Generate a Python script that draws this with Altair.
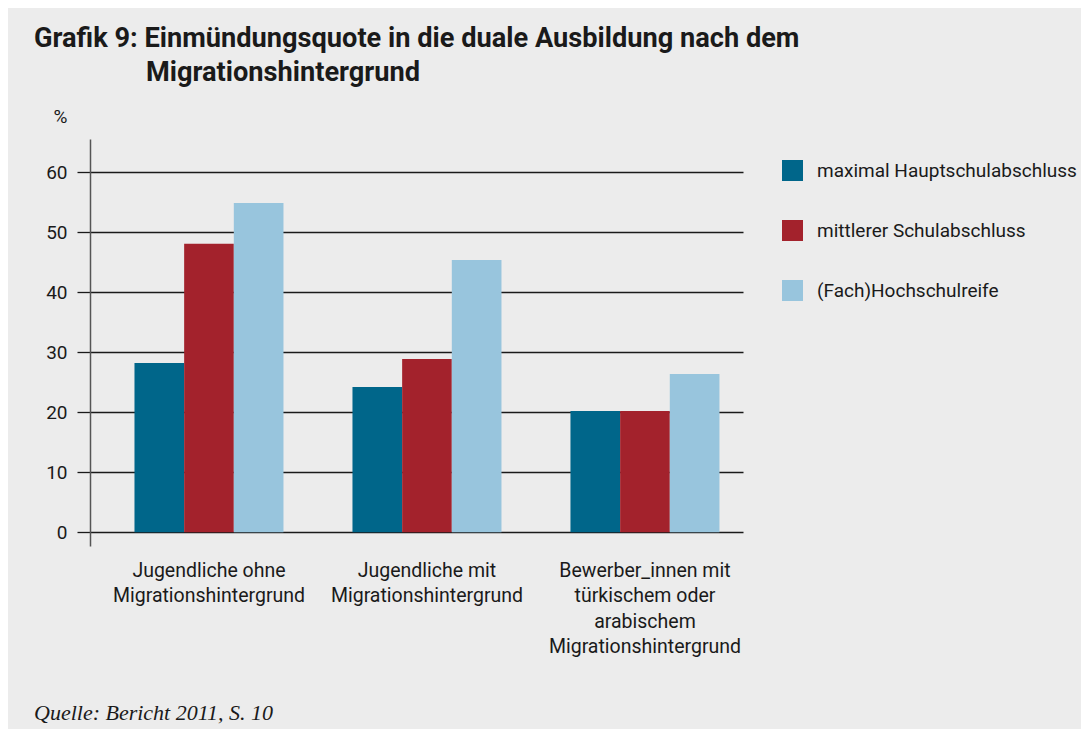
import altair as alt
import pandas as pd

# ---- data ----
groups = [
    "Jugendliche ohne\nMigrationshintergrund",
    "Jugendliche mit\nMigrationshintergrund",
    "Bewerber_innen mit\ntürkischem oder\narabischem\nMigrationshintergrund",
]
series = ["maximal Hauptschulabschluss", "mittlerer Schulabschluss", "(Fach)Hochschulreife"]
hauptschulabschluss = [28.2, 24.2, 20.2]
mittlerer_abschluss = [48.1, 28.9, 20.2]
hochschulreife = [54.9, 45.4, 26.4]
colors = ["#00668a", "#a3222c", "#98c5dd"]
y_ticks = [0, 10, 20, 30, 40, 50, 60]

title_line1 = "Grafik 9: Einmündungsquote in die duale Ausbildung nach dem"
title_line2 = "Migrationshintergrund"
source_text = "Quelle: Bericht 2011, S. 10"

rows = []
for s, vals in zip(series, [hauptschulabschluss, mittlerer_abschluss, hochschulreife]):
    for g, v in zip(groups, vals):
        rows.append({"gruppe": g, "abschluss": s, "quote": v, "basis": 0})
df = pd.DataFrame(rows)

FONT = "Roboto"
TXT = "#1a1a1a"

bars = alt.Chart(df).mark_bar().encode(
    x=alt.X(
        "gruppe:N",
        sort=groups,
        scale=alt.Scale(paddingInner=0.3165, paddingOuter=0.156, align=0.654),
        axis=alt.Axis(
            title=None,
            labelExpr="split(datum.label, '\\n')",
            domain=False,
            ticks=False,
            labelAngle=0,
            labelPadding=15,
            labelFontSize=19.5,
            labelLineHeight=25.5,
            labelColor=TXT,
            labelFont=FONT,
            labelBaseline="top",
            labelLimit=0,
        ),
    ),
    xOffset=alt.XOffset("abschluss:N", sort=series, scale=alt.Scale(paddingInner=0, paddingOuter=0)),
    y=alt.Y(
        "quote:Q",
        scale=alt.Scale(domain=[-2.28, 65.55], nice=False, zero=False),
        axis=alt.Axis(
            values=y_ticks,
            title="%",
            titleAngle=0,
            titleX=-30,
            titleY=-17,
            titleAlign="center",
            titleBaseline="alphabetic",
            titleFontSize=19,
            titleFontWeight="normal",
            titleFont=FONT,
            titleColor=TXT,
            labelFontSize=19,
            labelFont=FONT,
            labelColor=TXT,
            labelPadding=10,
            tickSize=13,
            tickColor=TXT,
            tickWidth=1.3,
            grid=True,
            gridColor=TXT,
            gridWidth=1.3,
            domainColor="#555555",
            domainWidth=1.5,
        ),
    ),
    y2="basis:Q",
    color=alt.Color(
        "abschluss:N",
        sort=series,
        scale=alt.Scale(domain=series, range=colors),
        legend=alt.Legend(
            title=None,
            orient="none",
            legendX=692,
            legendY=21,
            symbolType="square",
            symbolSize=441,
            symbolStrokeWidth=0,
            symbolOpacity=1,
            labelFontSize=19,
            labelFont=FONT,
            labelColor=TXT,
            labelOffset=14,
            labelLimit=0,
            rowPadding=39,
            padding=0,
        ),
    ),
)

title_df = pd.DataFrame({"t": [title_line1]})
title2_df = pd.DataFrame({"t": [title_line2]})
source_df = pd.DataFrame({"t": [source_text]})

t1 = alt.Chart(title_df).mark_text(
    align="left", baseline="alphabetic", font=FONT, fontSize=27.2, fontWeight="bold", color=TXT
).encode(text="t:N", x=alt.value(-56), y=alt.value(-92))
t2 = alt.Chart(title2_df).mark_text(
    align="left", baseline="alphabetic", font=FONT, fontSize=27.2, fontWeight="bold", color=TXT
).encode(text="t:N", x=alt.value(56), y=alt.value(-58))
src = alt.Chart(source_df).mark_text(
    align="left", baseline="alphabetic", font="Liberation Serif", fontSize=22, fontStyle="italic", color=TXT
).encode(text="t:N", x=alt.value(-56), y=alt.value(581))

chart = alt.layer(bars, t1, t2, src).properties(
    width=653,
    height=407,
    padding={"left": 82, "top": 131, "right": 338, "bottom": 183},
    autosize=alt.AutoSizeParams(type="none"),
    background="#ececec",
).configure_view(stroke=None)

chart.save("out.html", embed_options={"renderer": "svg", "actions": False})
